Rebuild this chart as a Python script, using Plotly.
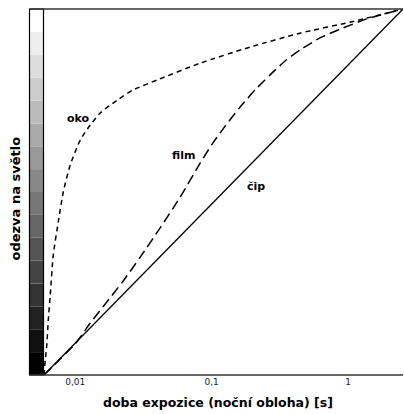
import math
import plotly.graph_objects as go

# ---- data ----
x_range = [0.0059, 2.53]  # exposure time [s], log axis

oko_x = [0.0059, 0.006029, 0.006183, 0.006342, 0.006558, 0.0069, 0.007508, 0.008167, 0.009192,
         0.01088, 0.01288, 0.01525, 0.02031, 0.0266, 0.03988, 0.08236, 0.19145, 0.44494, 1.0343, 2.53]
oko_y = [0.0, 0.041, 0.082, 0.150, 0.219, 0.328, 0.418, 0.500, 0.574,
         0.642, 0.683, 0.716, 0.751, 0.779, 0.806, 0.852, 0.896, 0.934, 0.964, 1.0]

film_x = [0.0059, 0.007763, 0.01, 0.01288, 0.01659, 0.02247, 0.02994, 0.04195, 0.05877, 0.08236,
          0.1009, 0.1256, 0.1617, 0.2083, 0.2683, 0.3455, 0.4449, 0.6236, 0.8738, 1.378, 2.53]
film_y = [0.0, 0.044, 0.085, 0.142, 0.194, 0.257, 0.322, 0.402, 0.486, 0.579,
          0.631, 0.680, 0.732, 0.779, 0.820, 0.858, 0.888, 0.921, 0.945, 0.973, 1.0]

cip_x = [0.0059, 2.53]
cip_y = [0.0, 1.0]

tick_vals = [0.01, 0.1, 1]
tick_text = ["0,01", "0,1", "1"]

labels = ["oko", "film", "čip"]
n_bands = 16

FONT = "DejaVu Sans"

fig = go.Figure()
fig.add_trace(go.Scatter(x=cip_x, y=cip_y, mode="lines",
                         line=dict(color="black", width=1.3), hoverinfo="skip"))
fig.add_trace(go.Scatter(x=film_x, y=film_y, mode="lines",
                         line=dict(color="black", width=1.5, dash="10px,5px",
                                   shape="spline", smoothing=0.6), hoverinfo="skip"))
fig.add_trace(go.Scatter(x=oko_x, y=oko_y, mode="lines",
                         line=dict(color="black", width=1.5, dash="5px,4px",
                                   shape="spline", smoothing=0.6), hoverinfo="skip"))

W, H = 404, 414
L, R, T, B = 44, 1, 9, 39
pw, ph = W - L - R, H - T - B

def px(xp):
    return (xp - L) / pw

def py(yp):
    return (H - B - yp) / ph

shapes = []
strip_x0, strip_x1 = px(29.5), px(43.5)
for i in range(n_bands):
    g = int(round(255 * i / (n_bands - 1)))
    col = f"rgb({g},{g},{g})"
    shapes.append(dict(type="rect", xref="paper", yref="paper",
                       x0=strip_x0, x1=strip_x1,
                       y0=i / n_bands, y1=(i + 1) / n_bands,
                       fillcolor=col, line=dict(width=0), layer="below"))
# frame of the strip
shapes.append(dict(type="rect", xref="paper", yref="paper", x0=strip_x0, x1=strip_x1,
                   y0=0, y1=1, line=dict(color="black", width=1.2)))
# top line
shapes.append(dict(type="line", xref="paper", yref="paper", x0=strip_x0, x1=1,
                   y0=1, y1=1, line=dict(color="#333", width=1.5)))
# bottom line
shapes.append(dict(type="line", xref="paper", yref="paper", x0=strip_x0, x1=1,
                   y0=0, y1=0, line=dict(color="#333", width=1.5)))

label_pos = [(78.5, 118), (183.5, 155), (255.5, 186)]
annotations = []
for t, (xp, yp) in zip(labels, label_pos):
    annotations.append(dict(text=f"<b>{t}</b>", xref="paper", yref="paper",
                            x=px(xp), y=py(yp), showarrow=False,
                            xanchor="center", yanchor="middle",
                            font=dict(family=FONT, size=11, color="black")))
annotations.append(dict(text="<b>doba expozice (noční obloha) [s]</b>", xref="paper", yref="paper",
                        x=px(218), y=py(402), showarrow=False, xanchor="center", yanchor="middle",
                        font=dict(family=FONT, size=12.5, color="black")))
annotations.append(dict(text="<b>odezva na světlo</b>", xref="paper", yref="paper",
                        x=px(14.5), y=py(199), showarrow=False, xanchor="center", yanchor="middle",
                        textangle=-90,
                        font=dict(family=FONT, size=13, color="black")))

fig.update_layout(
    width=W, height=H,
    margin=dict(l=L, r=R, t=T, b=B, pad=0),
    paper_bgcolor="white", plot_bgcolor="white",
    showlegend=False,
    shapes=shapes, annotations=annotations,
    xaxis=dict(type="log", range=[math.log10(x_range[0]), math.log10(x_range[1])],
               tickvals=tick_vals, ticktext=tick_text, showgrid=False, zeroline=False,
               ticks="", showline=False,
               tickfont=dict(family=FONT, size=9, color="#222")),
    yaxis=dict(range=[0, 1], showgrid=False, zeroline=False, showticklabels=False,
               ticks="", showline=False),
)

fig.write_html("out.html")
